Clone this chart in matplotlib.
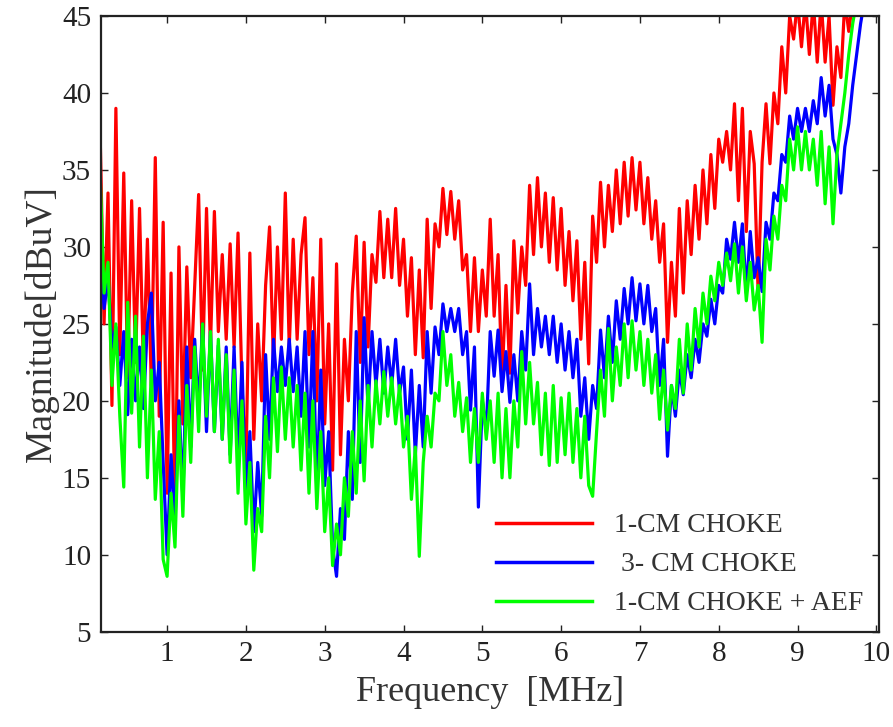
import numpy as np
import matplotlib
matplotlib.use("Agg")
import matplotlib.pyplot as plt

# frequency grid of the spectrum (MHz)
freq = [
    0.15, 0.20, 0.25, 0.30, 0.35, 0.40, 0.45, 0.50, 0.55, 0.60,
    0.65, 0.70, 0.75, 0.80, 0.85, 0.90, 0.95, 1.00, 1.05, 1.10,
    1.15, 1.20, 1.25, 1.30, 1.35, 1.40, 1.45, 1.50, 1.55, 1.60,
    1.65, 1.70, 1.75, 1.80, 1.85, 1.90, 1.95, 2.00, 2.05, 2.10,
    2.15, 2.20, 2.25, 2.30, 2.35, 2.40, 2.45, 2.50, 2.55, 2.60,
    2.65, 2.70, 2.75, 2.80, 2.85, 2.90, 2.95, 3.00, 3.05, 3.10,
    3.15, 3.20, 3.25, 3.30, 3.35, 3.40, 3.45, 3.50, 3.55, 3.60,
    3.65, 3.70, 3.75, 3.80, 3.85, 3.90, 3.95, 4.00, 4.05, 4.10,
    4.15, 4.20, 4.25, 4.30, 4.35, 4.40, 4.45, 4.50, 4.55, 4.60,
    4.65, 4.70, 4.75, 4.80, 4.85, 4.90, 4.95, 5.00, 5.05, 5.10,
    5.15, 5.20, 5.25, 5.30, 5.35, 5.40, 5.45, 5.50, 5.55, 5.60,
    5.65, 5.70, 5.75, 5.80, 5.85, 5.90, 5.95, 6.00, 6.05, 6.10,
    6.15, 6.20, 6.25, 6.30, 6.35, 6.40, 6.45, 6.50, 6.55, 6.60,
    6.65, 6.70, 6.75, 6.80, 6.85, 6.90, 6.95, 7.00, 7.05, 7.10,
    7.15, 7.20, 7.25, 7.30, 7.35, 7.40, 7.45, 7.50, 7.55, 7.60,
    7.65, 7.70, 7.75, 7.80, 7.85, 7.90, 7.95, 8.00, 8.05, 8.10,
    8.15, 8.20, 8.25, 8.30, 8.35, 8.40, 8.45, 8.50, 8.55, 8.60,
    8.65, 8.70, 8.75, 8.80, 8.85, 8.90, 8.95, 9.00, 9.05, 9.10,
    9.15, 9.20, 9.25, 9.30, 9.35, 9.40, 9.45, 9.50, 9.55, 9.60,
    9.65, 9.70, 9.75, 9.80, 9.85,
]

# 1-CM CHOKE (dBuV)
one_cm = [
    37.4, 25.0, 33.5, 19.7, 39.0, 23.0, 34.8, 21.5, 33.0, 22.5,
    32.5, 22.0, 30.5, 21.0, 35.8, 19.0, 31.6, 14.0, 28.3, 12.2,
    30.0, 18.5, 28.7, 21.5, 27.5, 33.4, 22.0, 32.5, 23.5, 32.3,
    24.5, 29.5, 24.0, 30.2, 23.5, 30.9, 21.0, 15.7, 29.6, 17.5,
    25.0, 20.0, 27.5, 31.3, 22.5, 30.0, 24.0, 33.5, 23.5, 30.5,
    24.0, 29.5, 31.9, 23.0, 28.0, 20.0, 30.5, 18.5, 25.0, 15.5,
    28.9, 16.5, 24.0, 20.0, 27.0, 30.7, 22.5, 30.3, 23.5, 29.5,
    27.7, 32.3, 28.0, 31.8, 28.0, 32.5, 27.5, 30.5, 25.5, 29.3,
    23.0, 28.5, 22.8, 31.8, 26.0, 31.5, 30.0, 33.8, 30.8, 33.6,
    30.5, 33.0, 28.5, 29.5, 24.5, 29.3, 24.5, 28.5, 25.5, 31.8,
    25.5, 29.5, 21.2, 27.5, 21.8, 30.4, 25.7, 30.0, 27.5, 34.0,
    29.5, 34.5, 30.0, 33.5, 29.0, 33.2, 28.5, 32.5, 27.5, 31.0,
    26.5, 30.4, 24.0, 29.0, 22.4, 32.0, 29.0, 34.2, 30.0, 34.0,
    31.0, 35.0, 31.5, 35.5, 32.0, 35.8, 32.4, 35.5, 31.5, 34.5,
    30.5, 33.0, 29.0, 31.5, 23.8, 29.0, 25.5, 32.5, 27.0, 33.0,
    29.5, 34.0, 30.5, 35.0, 31.5, 36.0, 32.5, 37.0, 35.5, 37.5,
    35.0, 39.3, 33.0, 39.0, 31.0, 37.5, 35.4, 27.0, 35.5, 39.3,
    35.4, 40.0, 38.0, 43.0, 40.0, 45.0, 43.5, 46.0, 43.0, 46.0,
    42.5, 46.0, 42.0, 46.0, 42.0, 45.0, 39.2, 43.0, 41.0, 46.0,
    44.0, 46.0, 46.0, 46.0, 46.0,
]

# 3- CM CHOKE (dBuV)
three_cm = [
    30.0, 26.0, 28.0, 23.5, 24.8, 21.0, 24.5, 19.1, 24.0, 20.0,
    23.5, 19.5, 25.0, 27.0, 20.0, 22.5, 16.0, 10.0, 16.5, 12.0,
    20.0, 13.6, 23.5, 17.0, 24.0, 19.5, 25.0, 18.0, 24.5, 18.0,
    23.6, 17.5, 23.5, 16.5, 23.5, 16.0, 22.5, 13.3, 18.0, 11.5,
    16.0, 12.5, 23.0, 17.5, 24.0, 20.6, 23.5, 21.0, 24.0, 20.6,
    23.5, 19.0, 24.5, 17.0, 24.5, 14.0, 22.0, 14.5, 18.0, 10.5,
    8.6, 13.0, 11.0, 18.0, 13.6, 24.5, 16.0, 25.4, 19.5, 24.5,
    21.0, 24.0, 20.5, 23.5, 21.0, 24.0, 20.5, 22.2, 17.5, 22.0,
    16.5, 21.0, 17.0, 24.5, 20.5, 24.8, 23.0, 26.3, 24.5, 26.0,
    24.5, 26.0, 23.0, 24.5, 19.4, 23.5, 13.1, 20.0, 18.0, 24.5,
    21.6, 24.6, 20.6, 23.2, 19.9, 23.0, 20.0, 24.5, 22.0, 27.6,
    23.0, 26.0, 23.5, 25.5, 23.0, 25.5, 22.5, 25.0, 22.0, 24.5,
    21.5, 24.0, 19.0, 21.5, 17.5, 21.0, 19.5, 24.6, 21.5, 25.5,
    22.5, 26.5, 24.0, 27.3, 25.0, 28.0, 25.2, 27.6, 25.0, 27.5,
    24.5, 26.0, 21.0, 24.0, 16.4, 21.0, 19.0, 22.0, 20.4, 23.0,
    21.5, 24.0, 22.5, 25.0, 24.2, 26.6, 25.0, 27.5, 27.0, 30.5,
    29.2, 31.6, 29.0, 31.5, 27.0, 31.0, 28.0, 29.3, 27.1, 31.6,
    30.5, 33.5, 33.0, 36.0, 35.5, 38.5, 37.0, 39.0, 37.5, 39.0,
    37.5, 39.5, 38.0, 41.0, 38.5, 40.5, 37.0, 36.0, 33.5, 36.5,
    38.0, 40.5, 42.5, 44.5, 46.0,
]

# 1-CM CHOKE + AEF (dBuV)
one_cm_aef = [
    34.7, 27.0, 29.0, 21.0, 25.0, 19.0, 14.4, 26.4, 19.2, 25.5,
    17.0, 24.2, 15.0, 22.0, 13.6, 18.0, 9.7, 8.6, 14.0, 10.5,
    19.0, 12.5, 21.0, 16.0, 23.5, 18.0, 25.0, 19.0, 24.5, 18.0,
    24.0, 17.5, 23.0, 16.0, 22.0, 14.0, 20.0, 12.0, 16.0, 9.0,
    13.0, 11.5, 19.0, 15.0, 21.5, 16.7, 22.2, 17.5, 21.5, 17.0,
    21.0, 15.5, 20.5, 14.0, 20.0, 13.0, 18.0, 11.5, 15.0, 9.3,
    12.0, 10.0, 15.0, 12.5, 18.0, 14.0, 20.0, 14.8, 21.0, 17.0,
    21.3, 18.5, 21.9, 19.0, 21.5, 18.5, 21.0, 17.0, 19.0, 13.6,
    17.0, 9.9, 16.0, 19.0, 17.0, 20.5, 20.0, 24.5, 21.0, 23.0,
    19.0, 21.2, 18.0, 20.2, 16.0, 19.5, 16.0, 20.5, 17.5, 20.0,
    16.0, 20.5, 15.0, 19.5, 15.0, 20.0, 17.0, 23.2, 18.5, 22.5,
    18.5, 21.2, 16.5, 20.5, 15.8, 21.0, 16.0, 20.2, 16.5, 20.5,
    16.0, 19.5, 15.0, 19.0, 14.5, 13.8, 18.0, 22.0, 19.0, 24.7,
    20.0, 23.5, 21.0, 25.0, 21.5, 25.2, 22.0, 24.5, 21.0, 24.0,
    20.5, 23.0, 18.8, 22.0, 18.1, 21.0, 19.5, 24.0, 20.5, 25.0,
    22.0, 26.0, 23.5, 27.0, 25.0, 28.1, 26.5, 29.0, 27.5, 29.6,
    27.8, 30.2, 27.0, 30.0, 26.5, 29.0, 25.9, 27.5, 23.8, 30.5,
    28.5, 32.0, 30.5, 34.0, 33.0, 37.0, 35.0, 37.8, 35.0, 37.5,
    35.0, 37.0, 34.0, 37.5, 32.8, 36.5, 31.5, 36.0, 38.0, 40.0,
    42.5, 44.5, 46.0, 46.0, 46.0,
]

labels = ["1-CM CHOKE", " 3- CM CHOKE", "1-CM CHOKE + AEF"]

plt.rcParams['font.family'] = ['Liberation Serif', 'DejaVu Serif']

fig = plt.figure(figsize=(8.93, 7.27), dpi=100)
ax = fig.add_axes([0.113, 0.131, 0.871, 0.847])

ax.plot(freq, one_cm, color='#ff0000', lw=2.3, label=labels[0])
ax.plot(freq, three_cm, color='#0000ff', lw=2.3, label=labels[1])
ax.plot(freq, one_cm_aef, color='#00ff00', lw=2.3, label=labels[2])

ax.set_xlim(0.16, 10.03)
ax.set_ylim(5, 45)
ax.set_xticks(range(1, 11))
ax.set_yticks(range(5, 46, 5))
ax.tick_params(direction='in', top=True, right=True, length=5, width=1,
               labelsize=21, colors='#222222', pad=7)
for s in ax.spines.values():
    s.set_linewidth(1.6)
    s.set_color('#222222')

ax.set_xlabel("Frequency  [MHz]", fontsize=26, color='#333333', labelpad=6)
ax.set_ylabel("Magnitude[dBuV]", fontsize=27, color='#333333', labelpad=2)

leg = ax.legend(loc='lower right', bbox_to_anchor=(1.0, 0.0), frameon=False,
                fontsize=20, handlelength=3.45, handletextpad=0.8,
                labelspacing=0.49, borderaxespad=0.15)
for t in leg.get_texts():
    t.set_color('#333333')
for h in leg.get_lines():
    h.set_linewidth(2.5)

fig.savefig("out.png", dpi=100)
